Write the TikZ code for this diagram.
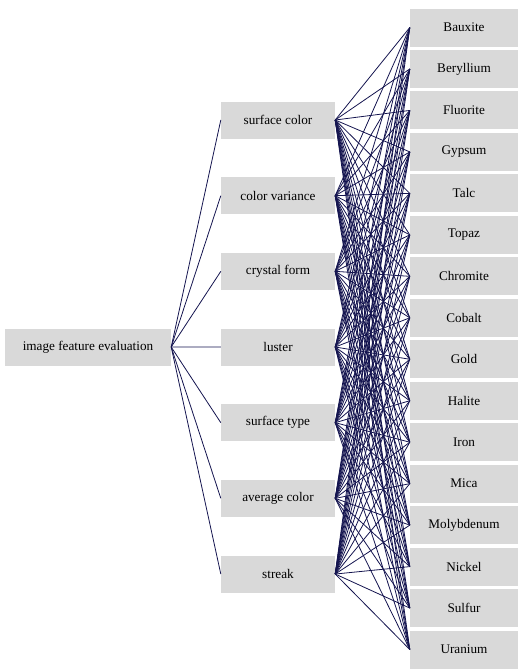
\documentclass[tikz,border=0pt]{standalone}
\usepackage{fontspec}
\setmainfont{Liberation Serif}
\definecolor{boxgray}{HTML}{D9D9D9}
\definecolor{linknavy}{HTML}{14144F}
\begin{document}
\begin{tikzpicture}[x=1pt,y=-1pt,
  box/.style={fill=boxgray, inner sep=0pt, font=\fontsize{13.2}{15}\selectfont},
  rootbox/.style={box, minimum width=166pt, minimum height=37pt},
  featbox/.style={box, minimum width=114pt, minimum height=37pt},
  minbox/.style={box, minimum width=108pt, minimum height=38pt},
  link/.style={draw=linknavy, line width=0.8pt}]
\useasboundingbox (0,0) rectangle (518,670);

% root
\node[rootbox] (root) at (88,347) {image feature evaluation};

% feature level
\foreach \name [count=\i from 0] in {surface color,color variance,crystal form,luster,surface type,average color,streak}
  \node[featbox] (f\i) at (278,{120+75.67*\i}) {\name};

% mineral level
\foreach \name [count=\j from 0] in {Bauxite,Beryllium,Fluorite,Gypsum,Talc,Topaz,Chromite,Cobalt,Gold,Halite,Iron,Mica,Molybdenum,Nickel,Sulfur,Uranium}
  \node[minbox] (m\j) at (464,{27.5+41.47*\j}) {\name};

% connectors
\foreach \i in {0,...,6} {
  \draw[link] (root.east) -- (f\i.west);
  \foreach \j in {0,...,15}
    \draw[link] (f\i.east) -- (m\j.west);
}
\end{tikzpicture}
\end{document}
